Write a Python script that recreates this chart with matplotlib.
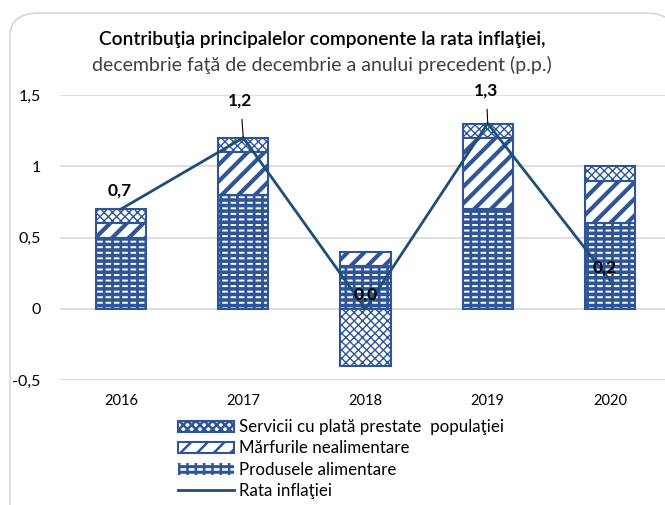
import numpy as np
import matplotlib as mpl
import matplotlib.pyplot as plt
from matplotlib.patches import Patch, FancyBboxPatch
from matplotlib.lines import Line2D

plt.rcParams['font.family'] = ['Lato', 'DejaVu Sans']

years = ['2016', '2017', '2018', '2019', '2020']
food = [0.5, 0.8, 0.3, 0.7, 0.6]
nonfood = [0.1, 0.3, 0.1, 0.5, 0.3]
services = [0.1, 0.1, -0.4, 0.1, 0.1]
inflation = [0.7, 1.2, 0.0, 1.3, 0.2]
yticks = [-0.5, 0, 0.5, 1, 1.5]
ytick_labels = ['-0,5', '0', '0,5', '1', '1,5']

blue = '#2F5597'
line_c = '#1F4E79'

fig = plt.figure(figsize=(6.65, 5.05), dpi=100)
fig.patches.append(FancyBboxPatch((10 / 665, -0.05), 1.0, 1 - 13 / 505 + 0.05,
                                  boxstyle='round,pad=0,rounding_size=0.045',
                                  transform=fig.transFigure, fc='white', ec='#d0d0d0', lw=1, zorder=-10))
ax = fig.add_axes([60 / 665, 1 - 380 / 505, 611 / 665, 285 / 505])
ax.set_facecolor('none')

x = np.arange(len(years))
w = 0.41
food_arr = np.array(food)
nonfood_arr = np.array(nonfood)
serv_arr = np.array(services)
serv_bottom = np.where(serv_arr > 0, food_arr + nonfood_arr, 0)

# food: blue fill, white dashes broken by blue vertical hatch
with mpl.rc_context({'hatch.linewidth': 1.4}):
    ax.bar(x, food_arr, w, color=blue, edgecolor='white', hatch='---', lw=0, zorder=2)
with mpl.rc_context({'hatch.linewidth': 2.0}):
    ax.bar(x, food_arr, w, fill=False, edgecolor=blue, hatch='||', lw=0, zorder=2.5)
ax.bar(x, food_arr, w, fill=False, edgecolor=blue, lw=1.5, zorder=3)
# non-food: thick diagonal stripes
with mpl.rc_context({'hatch.linewidth': 3.0}):
    ax.bar(x, nonfood_arr, w, bottom=food_arr, color='white', edgecolor=blue, hatch='//', lw=1.5, zorder=2)
# services
with mpl.rc_context({'hatch.linewidth': 1.0}):
    ax.bar(x, serv_arr, w, bottom=serv_bottom, color='white', edgecolor=blue, hatch='xxxx', lw=1.5, zorder=2)

ax.plot(x, inflation, color=line_c, lw=2, zorder=4)

lbl = [f'{v:.1f}'.replace('.', ',') for v in inflation]
offsets = [(-1, 13), (-2, 27), (0, 10), (-1, 24), (-4, 9)]
for i, v in enumerate(inflation):
    dx, dy = offsets[i]
    arrow = None
    if i in (1, 3):
        arrow = dict(arrowstyle='-', color='black', lw=0.8, shrinkA=6, shrinkB=0)
    ax.annotate(lbl[i], (x[i], v), xytext=(dx, dy), textcoords='offset points', ha='center',
                va='center', fontsize=12.5, fontweight='bold', arrowprops=arrow, zorder=5)

ax.set_xlim(-0.5, 4.5)
ax.set_ylim(-0.5, 1.5)
ax.set_yticks(yticks)
ax.set_yticklabels(ytick_labels, fontsize=11.5)
ax.set_xticks(x)
ax.set_xticklabels(years, fontsize=10.5)
ax.tick_params(length=0, pad=10)
ax.tick_params(axis='y', pad=14)
ax.grid(axis='y', color='#d9d9d9', lw=1.2, zorder=0)
ax.set_axisbelow(True)
for s in ax.spines.values():
    s.set_visible(False)

fig.text(322 / 665, 1 - 40 / 505, 'Contribuţia principalelor componente la rata inflaţiei,',
         ha='center', va='center', fontsize=13.8, fontweight='semibold')
fig.text(322 / 665, 1 - 65 / 505, 'decembrie faţă de decembrie a anului precedent (p.p.)',
         ha='center', va='center', fontsize=14, color='#404040')

# legend handles
serv_leg = Patch(facecolor='white', edgecolor=blue, hatch='xxxx', lw=1.5)
food_leg = (Patch(facecolor=blue, edgecolor='white', hatch='---', lw=0),
            Patch(fill=False, edgecolor=blue, hatch='||', lw=0))
nonfood_leg = Patch(facecolor='white', edgecolor=blue, hatch='//', lw=1.5)
handles = [serv_leg, nonfood_leg, food_leg, Line2D([], [], color=line_c, lw=2)]
labels = ['Servicii cu plată prestate  populaţiei', 'Mărfurile nealimentare', 'Produsele alimentare',
          'Rata inflaţiei']
with mpl.rc_context({'hatch.linewidth': 1.8}):
    fig.legend(handles, labels, loc='center left', bbox_to_anchor=(170 / 665, 1 - 459 / 505), frameon=False,
               fontsize=12.2, handlelength=3.3, handleheight=0.7, labelspacing=0.3, handletextpad=0.3,
               borderpad=0)

fig.savefig('out.png', dpi=100)
